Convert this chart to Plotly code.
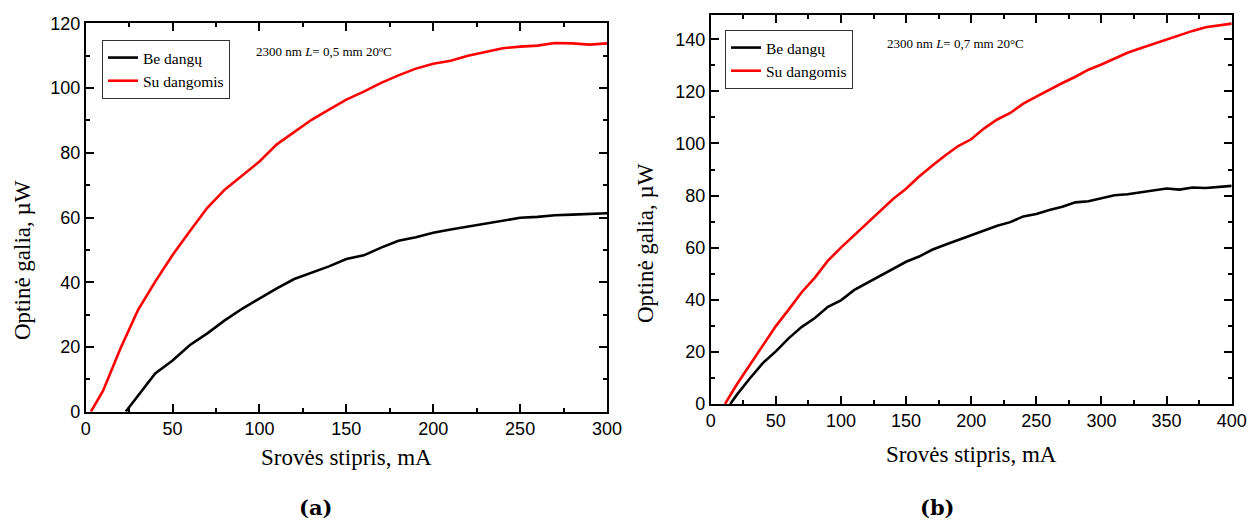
import plotly.graph_objects as go

# ---------------- data ----------------
# (a) L = 0.5 mm
a_red_x = [3, 10, 20, 30, 40, 50, 60, 70, 80, 90, 100, 110, 120, 130, 140, 150, 160, 170, 180, 190,
           200, 210, 220, 230, 240, 250, 260, 270, 280, 290, 300]
a_red_y = [0, 6.5, 19.5, 31.3, 40.2, 48.4, 55.8, 63.0, 68.6, 73.0, 77.3, 82.6, 86.4, 90.2, 93.3, 96.4,
           98.9, 101.6, 103.9, 106.0, 107.5, 108.4, 110.0, 111.2, 112.3, 112.8, 113.1, 113.9, 113.8, 113.4, 113.8]
a_blk_x = [23, 30, 40, 50, 60, 70, 80, 90, 100, 110, 120, 130, 140, 150, 160, 170, 180, 190, 200,
           210, 220, 230, 240, 250, 260, 270, 280, 290, 300]
a_blk_y = [0, 5.0, 11.8, 15.8, 20.6, 24.2, 28.2, 31.8, 35.0, 38.1, 41.0, 43.0, 44.9, 47.2, 48.3, 50.7,
           52.8, 53.9, 55.3, 56.3, 57.2, 58.3, 59.2, 59.9, 60.2, 60.7, 60.9, 61.0, 61.3]

# (b) L = 0.7 mm
b_red_x = [11, 20, 30, 40, 50, 60, 70, 80, 90, 100, 110, 120, 130, 140, 150, 160, 170, 180, 190, 200,
           210, 220, 230, 240, 250, 260, 270, 280, 290, 300, 310, 320, 330, 340, 350, 360, 370, 380, 390, 400]
b_red_y = [0, 7.5, 15.0, 22.5, 29.9, 36.3, 43.0, 48.5, 55.0, 60.0, 64.7, 69.3, 74.0, 78.7, 82.6, 87.3,
           91.4, 95.4, 99.0, 101.6, 105.8, 109.2, 111.7, 115.3, 118.0, 120.7, 123.2, 125.6, 128.3, 130.3,
           132.6, 134.8, 136.5, 138.2, 139.7, 141.5, 143.2, 144.6, 145.4, 146.0]
b_blk_x = [15, 20, 30, 40, 50, 60, 70, 80, 90, 100, 110, 120, 130, 140, 150, 160, 170, 180, 190, 200,
           210, 220, 230, 240, 250, 260, 270, 280, 290, 300, 310, 320, 330, 340, 350, 360, 370, 380, 390, 400]
b_blk_y = [0, 3.5, 9.8, 15.7, 20.2, 25.3, 29.6, 33.0, 37.3, 39.8, 43.7, 46.4, 48.9, 51.8, 54.6, 56.6,
           59.2, 61.1, 62.9, 65.0, 66.6, 68.4, 69.8, 72.0, 72.9, 74.5, 75.7, 77.4, 77.8, 79.1, 80.1, 80.5,
           81.3, 82.0, 82.7, 82.3, 83.1, 82.9, 83.3, 83.7]

series_names = ["Be dangų", "Su dangomis"]
x_title = "Srovės stipris, mA"
y_title = "Optinė galia, µW"
note_a = "2300 nm <i>L</i>= 0,5 mm 20ºC"
note_b = "2300 nm <i>L</i>= 0,7 mm 20°C"
captions = ["<b>(a)</b>", "<b>(b)</b>"]

W, H = 1251, 520
SERIF = "Liberation Serif"
SANS = "Liberation Sans"

fig = go.Figure()
LW = 2.6
fig.add_trace(go.Scatter(x=a_blk_x, y=a_blk_y, mode="lines", name=series_names[0],
                         line=dict(color="black", width=LW), xaxis="x", yaxis="y",
                         legend="legend", legendgroup="a1"))
fig.add_trace(go.Scatter(x=a_red_x, y=a_red_y, mode="lines", name=series_names[1],
                         line=dict(color="#ff0000", width=LW), xaxis="x", yaxis="y",
                         legend="legend", legendgroup="a2"))
fig.add_trace(go.Scatter(x=b_blk_x, y=b_blk_y, mode="lines", name=series_names[0],
                         line=dict(color="black", width=LW), xaxis="x2", yaxis="y2",
                         legend="legend2", legendgroup="b1"))
fig.add_trace(go.Scatter(x=b_red_x, y=b_red_y, mode="lines", name=series_names[1],
                         line=dict(color="#ff0000", width=LW), xaxis="x2", yaxis="y2",
                         legend="legend2", legendgroup="b2"))


def ax(domain, rng, dtick, minor_dtick, anchor, title=None, standoff=0):
    d = dict(domain=domain, range=rng, dtick=dtick, tick0=0, anchor=anchor,
             showline=True, linecolor="black", linewidth=1.6, mirror="ticks",
             ticks="inside", ticklen=8, tickwidth=1.6, tickcolor="black",
             minor=dict(ticks="inside", dtick=minor_dtick, ticklen=4, tickwidth=1.6, tickcolor="black"),
             showgrid=False, zeroline=False, automargin=False,
             tickfont=dict(family=SANS, size=18, color="black"))
    if title:
        d["title"] = dict(text=title, font=dict(family=SERIF, size=23, color="black"), standoff=standoff)
    return d


def px_x(p):
    return p / W


def px_y(p):
    return 1 - p / H


layout = dict(
    width=W, height=H, margin=dict(l=0, r=0, t=0, b=0),
    paper_bgcolor="white", plot_bgcolor="white",
    xaxis=ax([px_x(85.7), px_x(607)], [0, 300], 50, 25, "y", x_title, 11),
    yaxis=ax([px_y(411.7), px_y(23.3)], [0, 120], 20, 10, "x"),
    xaxis2=ax([px_x(710.7), px_x(1231.7)], [0, 400], 50, 25, "y2", x_title, 15),
    yaxis2=ax([px_y(404), px_y(15)], [0, 149.3], 20, 10, "x2"),
    legend=dict(x=px_x(102), y=px_y(40), xanchor="left", yanchor="top",
                bordercolor="#333", borderwidth=1, bgcolor="white",
                font=dict(family=SERIF, size=15.5, color="black"),
                traceorder="grouped", tracegroupgap=0),
    legend2=dict(x=px_x(725), y=px_y(30), xanchor="left", yanchor="top",
                 bordercolor="#333", borderwidth=1, bgcolor="white",
                 font=dict(family=SERIF, size=15.5, color="black"),
                 traceorder="grouped", tracegroupgap=0),
    showlegend=True,
    annotations=[
        dict(text=y_title, x=px_x(22), y=px_y(260), xref="paper", yref="paper",
             xanchor="center", yanchor="middle", showarrow=False, textangle=-90,
             font=dict(family=SERIF, size=23, color="black")),
        dict(text=y_title, x=px_x(645), y=px_y(243), xref="paper", yref="paper",
             xanchor="center", yanchor="middle", showarrow=False, textangle=-90,
             font=dict(family=SERIF, size=23, color="black")),
        dict(text=note_a, x=px_x(254), y=px_y(52), xref="paper", yref="paper",
             xanchor="left", yanchor="middle", showarrow=False,
             font=dict(family=SERIF, size=13, color="black")),
        dict(text=note_b, x=px_x(885), y=px_y(43), xref="paper", yref="paper",
             xanchor="left", yanchor="middle", showarrow=False,
             font=dict(family=SERIF, size=13, color="black")),
        dict(text=captions[0], x=px_x(315), y=px_y(507), xref="paper", yref="paper",
             xanchor="center", yanchor="middle", showarrow=False,
             font=dict(family="DejaVu Serif", size=21, color="black")),
        dict(text=captions[1], x=px_x(937), y=px_y(507), xref="paper", yref="paper",
             xanchor="center", yanchor="middle", showarrow=False,
             font=dict(family="DejaVu Serif", size=21, color="black")),
    ],
)
fig.update_layout(**layout)
fig.write_html("out.html")
